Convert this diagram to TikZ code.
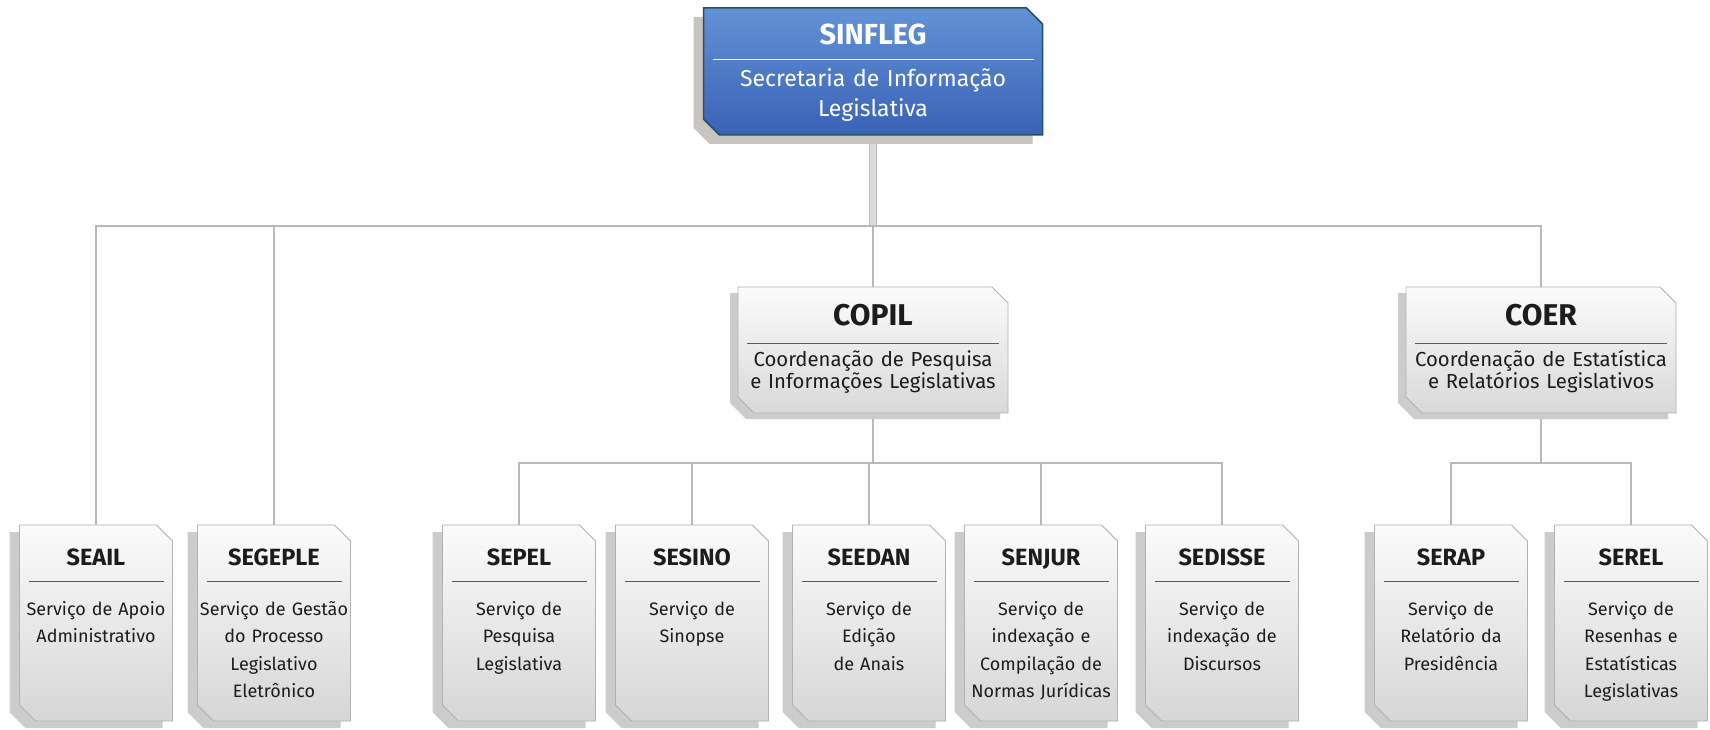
\documentclass[tikz,border=0pt]{standalone}
\usepackage{fontspec}
\setmainfont{Fira Sans}
\usepackage{tikz}
\usetikzlibrary{shapes.misc,shadows,backgrounds}

\definecolor{headtop}{RGB}{98,146,214}
\definecolor{headbottom}{RGB}{58,98,182}
\definecolor{headedge}{RGB}{28,84,112}
\definecolor{headshadow}{RGB}{200,196,192}
\definecolor{unittext}{RGB}{28,28,28}

\newcommand{\headtitle}{\fontsize{29}{30}\selectfont\bfseries}
\newcommand{\coordtitle}{\fontsize{30}{24}\selectfont\bfseries}
\newcommand{\servtitle}{\fontsize{23.5}{24}\selectfont\bfseries}

\tikzset{unitbase/.style={chamfered rectangle,chamfered rectangle corners={north east,south west},
chamfered rectangle xsep=8pt,chamfered rectangle ysep=8pt,inner ysep=0pt,inner xsep=-10pt,align=center},
sepline/.style 2 args={path picture={\draw[#1,line width=1pt]
([xshift=9pt,yshift=-#2]path picture bounding box.north west) --
([xshift=-9pt,yshift=-#2]path picture bounding box.north east);}},
head/.style={unitbase,text width=343pt,text height=29pt,text depth=82pt,
top color=headtop,bottom color=headbottom,draw=headedge,line width=1.5pt,text=white,
font=\fontsize{23}{30}\selectfont,
general shadow={fill=headshadow,shadow xshift=-10pt,shadow yshift=-9pt},sepline={white}{52pt}},
coord/.style={unitbase,text width=274pt,text height=30pt,text depth=80pt,
top color=gray!3,bottom color=gray!30,draw=gray!60,line width=0.8pt,text=unittext,
font=\fontsize{20.3}{21.5}\selectfont,
general shadow={fill=gray!40,shadow xshift=-8pt,shadow yshift=-6pt},sepline={gray!70!black}{56pt}},
serv/.style={unitbase,text width=157pt,text height=32pt,text depth=148pt,
top color=gray!3,bottom color=gray!32,draw=gray!60,line width=0.8pt,text=unittext,
font=\fontsize{18}{27.5}\selectfont,
general shadow={fill=gray!40,shadow xshift=-10pt,shadow yshift=-7pt},sepline={gray!70!black}{56pt}}}
\tikzstyle{link}  = [draw=gray!55,line width=2.5pt]
\tikzstyle{trunk} = [draw=gray!55,line width=1pt,double=gray!28,double distance=6pt]

\begin{document}
\begin{tikzpicture}[x=1pt,y=-1pt]
	\useasboundingbox (0,0) rectangle (1710,730);

	% secretaria
	\node[head] (sinfleg) at (873,71.5) {{\headtitle SINFLEG}\\[12pt]Secretaria de Informação\\Legislativa};

	% coordenacoes
	\node[coord] (copil) at (873,350) {{\coordtitle COPIL}\\[20pt]Coordenação de Pesquisa\\e Informações Legislativas};
	\node[coord] (coer) at (1541,350) {{\coordtitle COER}\\[20pt]Coordenação de Estatística\\e Relatórios Legislativos};

	% servicos
	\node[serv] (seail) at (96,623) {{\servtitle SEAIL}\\[22.5pt]Serviço de Apoio\\Administrativo};
	\node[serv] (segeple) at (274,623) {{\servtitle SEGEPLE}\\[22.5pt]Serviço de Gestão\\do Processo\\Legislativo\\Eletrônico};
	\node[serv] (sepel) at (519,623) {{\servtitle SEPEL}\\[22.5pt]Serviço de\\Pesquisa\\Legislativa};
	\node[serv] (sesino) at (692,623) {{\servtitle SESINO}\\[22.5pt]Serviço de\\Sinopse};
	\node[serv] (seedan) at (869,623) {{\servtitle SEEDAN}\\[22.5pt]Serviço de\\Edição\\de Anais};
	\node[serv] (senjur) at (1041,623) {{\servtitle SENJUR}\\[22.5pt]Serviço de\\indexação e\\Compilação de\\Normas Jurídicas};
	\node[serv] (sedisse) at (1222,623) {{\servtitle SEDISSE}\\[22.5pt]Serviço de\\indexação de\\Discursos};
	\node[serv] (serap) at (1451,623) {{\servtitle SERAP}\\[22.5pt]Serviço de\\Relatório da\\Presidência};
	\node[serv] (serel) at (1631,623) {{\servtitle SEREL}\\[22.5pt]Serviço de\\Resenhas e\\Estatísticas\\Legislativas};

	\coordinate (bus) at (0,226);
	\coordinate (copilbus) at (0,463);
	\coordinate (coerbus) at (0,463);

	\begin{scope}[on background layer]
		\fill[white] (0,0) rectangle (1710,730);
		\draw[trunk] (sinfleg.south) -- (sinfleg.south |- bus);
		\draw[link] (seail.north) -- (seail.north |- bus) -- (coer.north |- bus) -- (coer.north);
		\draw[link] (segeple.north) -- (segeple.north |- bus);
		\draw[link] (copil.north) -- (copil.north |- bus);
		\draw[link] (copil.south) -- (copil.south |- copilbus);
		\draw[link] (sepel.north) -- (sepel.north |- copilbus) -- (sedisse.north |- copilbus) -- (sedisse.north);
		\foreach \unit in {sesino,seedan,senjur}
			\draw[link] (\unit.north) -- (\unit.north |- copilbus);
		\draw[link] (coer.south) -- (coer.south |- coerbus);
		\draw[link] (serap.north) -- (serap.north |- coerbus) -- (serel.north |- coerbus) -- (serel.north);
	\end{scope}
\end{tikzpicture}
\end{document}
